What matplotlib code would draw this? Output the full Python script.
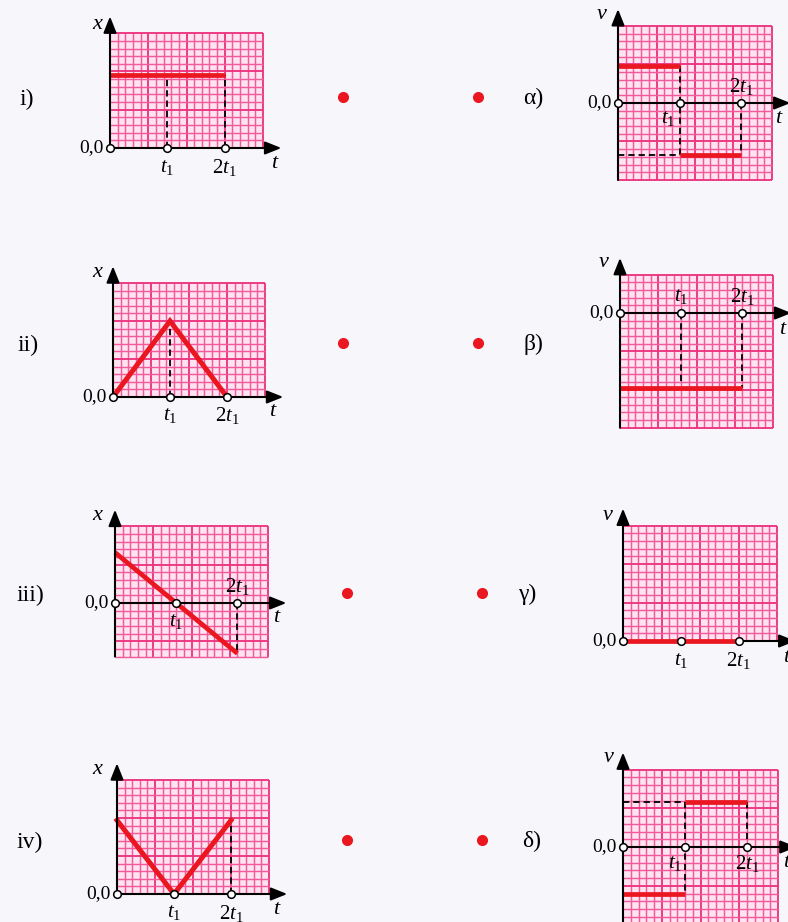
import matplotlib
matplotlib.use('Agg')
import matplotlib.pyplot as plt
from matplotlib.patches import Rectangle

W, H = 788, 922
plt.rcParams['font.family'] = ['Liberation Serif', 'DejaVu Serif']
plt.rcParams['mathtext.fontset'] = 'custom'
plt.rcParams['mathtext.rm'] = 'Liberation Serif'
plt.rcParams['mathtext.it'] = 'Liberation Serif:italic'

# ---------------- data (grid-cell units) ----------------
left_labels = ['i)', 'ii)', 'iii)', 'iv)']
right_labels = ['α)', 'β)', 'γ)', 'δ)']

# x-t graphs
i_t, i_x = [0, 15], [9.5, 9.5]
ii_t, ii_x = [0, 7.5, 15], [0, 10, 0]
iii_t, iii_x = [0, 16], [6.6, -6.6]
iv_t, iv_x = [0, 7.5, 15], [9.7, 0, 9.7]
# v-t graphs (piecewise constant segments)
alpha_t, alpha_v = [(0, 8), (8, 16)], [4.8, -6.8]
beta_t, beta_v = [(0, 16)], [-9.8]
gamma_t, gamma_v = [(0, 15)], [0]
delta_t, delta_v = [(0, 8), (8, 16)], [-6.1, 5.8]

t1_left = [7.5, 7.5, 8, 7.5]
t1_right = [8, 8, 7.5, 8]

RED = '#ea1620'
BG = '#f7f7fb'
CELL_BG = '#fde4f0'
MINOR = '#f25a9c'
MAJOR = '#ec3580'

fig = plt.figure(figsize=(W / 100, H / 100), dpi=100, facecolor=BG)

ARROW = dict(arrowstyle='-|>,head_length=0.7,head_width=0.28', color='k', lw=1.5,
             shrinkA=0, shrinkB=0, mutation_scale=14)


def make_panel(ox, oy, c, y0, y1):
    xl = (-5, 24)
    yl = (y0 - 4, y1 + 4)
    lpx = ox + xl[0] * c
    rpx = ox + xl[1] * c
    tpx = oy - yl[1] * c
    bpx = oy - yl[0] * c
    ax = fig.add_axes([lpx / W, 1 - bpx / H, (rpx - lpx) / W, (bpx - tpx) / H])
    ax.set_xlim(xl)
    ax.set_ylim(yl)
    ax.axis('off')
    # graph paper
    ax.add_patch(Rectangle((0, y0), 20, y1 - y0, fc=CELL_BG, ec='none', zorder=0))
    for i in range(0, 21):
        major = i % 5 == 0
        ax.plot([i, i], [y0, y1], color=MAJOR if major else MINOR,
                lw=1.35 if major else 1.05, zorder=1, solid_capstyle='butt')
    for j in range(y0, y1 + 1):
        major = j % 5 == 0
        ax.plot([0, 20], [j, j], color=MAJOR if major else MINOR,
                lw=1.35 if major else 1.05, zorder=1, solid_capstyle='butt')
    # axes with arrows
    ax.annotate('', xy=(0, y1 + 2.2), xytext=(0, y0), arrowprops=ARROW, zorder=5)
    ax.annotate('', xy=(22.4, 0), xytext=(0, 0), arrowprops=ARROW, zorder=5)
    return ax


def dashed(ax, xs, ys):
    ax.plot(xs, ys, color='k', lw=1.3, ls=(0, (3.5, 2.2)), zorder=3)


def circles(ax, t1):
    ax.plot([0, t1, 2 * t1], [0, 0, 0], 'o', mfc='white', mec='k', ms=5.5,
            mew=1.1, zorder=7, clip_on=False)


def labels(ax, axis_name, t1, t1_pos, t2_pos, t_pos, name_pos):
    ax.text(name_pos[0], name_pos[1], axis_name, fontsize=16, style='italic',
            ha='center', va='center')
    ax.text(-0.8, 0, '0,0', fontsize=14, ha='right', va='center')
    ax.text(t1_pos[0], t1_pos[1], r'$t_1$', fontsize=15, ha='center', va='center')
    ax.text(t2_pos[0], t2_pos[1], r'$2t_1$', fontsize=15, ha='center', va='center')
    ax.text(t_pos[0], t_pos[1], 't', fontsize=16, style='italic', ha='center', va='center')


LW = 3.4

# ---------------- left column: x-t ----------------
# i
ax = make_panel(110, 148, 7.65, 0, 15)
t1 = t1_left[0]
dashed(ax, [t1, t1], [0, i_x[0]])
dashed(ax, [2 * t1, 2 * t1], [0, i_x[-1]])
ax.plot(i_t, i_x, color=RED, lw=LW, zorder=4, solid_capstyle='butt')
circles(ax, t1)
labels(ax, 'x', t1, (t1, -2.6), (2 * t1, -2.6), (21.4, -2.0), (-1.7, 16.2))

# ii
ax = make_panel(113, 397, 7.6, 0, 15)
t1 = t1_left[1]
dashed(ax, [t1, t1], [0, max(ii_x)])
ax.plot(ii_t, ii_x, color=RED, lw=LW + 0.2, zorder=4, solid_joinstyle='miter')
circles(ax, t1)
labels(ax, 'x', t1, (t1, -2.4), (2 * t1, -2.4), (20.9, -1.9), (-2.1, 16.4))

# iii
ax = make_panel(115, 603, 7.65, -7, 10)
t1 = t1_left[2]
dashed(ax, [2 * t1, 2 * t1], [0, iii_x[-1]])
ax.plot(iii_t, iii_x, color=RED, lw=LW, zorder=4, solid_capstyle='butt')
circles(ax, t1)
labels(ax, 'x', t1, (t1, -2.4), (2 * t1, 2.2), (21.0, -1.9), (-2.3, 11.4))

# iv
ax = make_panel(117, 894, 7.6, 0, 15)
t1 = t1_left[3]
dashed(ax, [2 * t1, 2 * t1], [0, iv_x[-1]])
ax.plot(iv_t, iv_x, color=RED, lw=LW + 0.2, zorder=4, solid_joinstyle='miter')
circles(ax, t1)
labels(ax, 'x', t1, (t1, -2.5), (2 * t1, -2.5), (20.9, -2.1), (-2.6, 16.4))

# ---------------- right column: v-t ----------------
# alpha
ax = make_panel(618, 103, 7.7, -10, 10)
t1 = t1_right[0]
dashed(ax, [t1, t1], [alpha_v[0], alpha_v[1]])
dashed(ax, [0, t1], [alpha_v[1], alpha_v[1]])
dashed(ax, [2 * t1, 2 * t1], [0, alpha_v[1]])
for (a, b), v in zip(alpha_t, alpha_v):
    ax.plot([a, b], [v, v], color=RED, lw=LW, zorder=4, solid_capstyle='butt')
circles(ax, t1)
labels(ax, 'v', t1, (t1 - 1.5, -2.0), (2 * t1, 2.1), (20.8, -2.0), (-2.1, 11.5))

# beta
ax = make_panel(620, 313, 7.65, -15, 5)
t1 = t1_right[1]
dashed(ax, [t1, t1], [0, beta_v[0] + 0.5])
dashed(ax, [2 * t1, 2 * t1], [0, beta_v[0]])
for (a, b), v in zip(beta_t, beta_v):
    ax.plot([a, b], [v, v], color=RED, lw=LW, zorder=4, solid_capstyle='butt')
circles(ax, t1)
labels(ax, 'v', t1, (t1, 2.2), (2 * t1, 2.2), (21.2, -2.2), (-2.2, 6.6))

# gamma
ax = make_panel(623, 641, 7.7, 0, 15)
t1 = t1_right[2]
for (a, b), v in zip(gamma_t, gamma_v):
    ax.plot([a, b], [v, v], color=RED, lw=LW, zorder=6, solid_capstyle='butt')
circles(ax, t1)
labels(ax, 'v', t1, (t1, -2.5), (2 * t1, -2.5), (21.2, -2.1), (-2.0, 16.3))

# delta
ax = make_panel(623, 847, 7.75, -10, 10)
t1 = t1_right[3]
dashed(ax, [0, t1], [delta_v[1], delta_v[1]])
dashed(ax, [t1, t1], [delta_v[1], delta_v[0]])
dashed(ax, [2 * t1, 2 * t1], [delta_v[1], 0])
for (a, b), v in zip(delta_t, delta_v):
    ax.plot([a, b], [v, v], color=RED, lw=LW, zorder=4, solid_capstyle='butt')
circles(ax, t1)
labels(ax, 'v', t1, (t1 - 1.3, -2.1), (2 * t1, -2.1), (21.0, -2.0), (-1.9, 11.5))

# ---------------- row labels and matching dots ----------------
over = fig.add_axes([0, 0, 1, 1], facecolor='none')
over.set_xlim(0, W)
over.set_ylim(H, 0)
over.axis('off')
row_y = [97, 343, 593, 840]
left_lab_x = [27, 28, 30, 30]
right_lab_x = [533, 533, 527, 532]
dot_left_x = [343, 343, 347, 347]
dot_right_x = [478, 478, 482, 482]
for k in range(4):
    over.text(left_lab_x[k], row_y[k] + 2, left_labels[k], fontsize=17,
              ha='center', va='center')
    over.text(right_lab_x[k], row_y[k] + 1, right_labels[k], fontsize=17,
              ha='center', va='center')
    over.plot([dot_left_x[k], dot_right_x[k]], [row_y[k], row_y[k]], 'o',
              color=RED, ms=8, mec='none', ls='none')

fig.savefig('out.png', dpi=100, facecolor=BG)
